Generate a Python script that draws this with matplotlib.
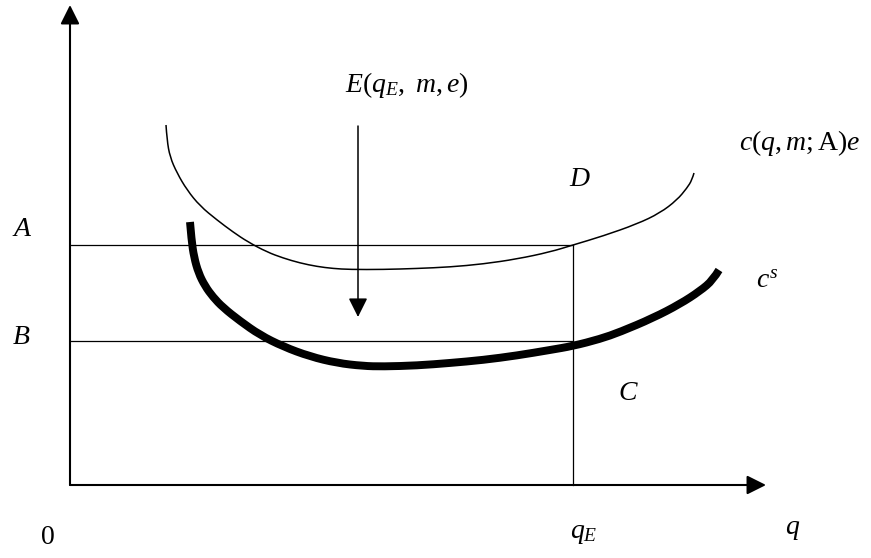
import numpy as np
import matplotlib
matplotlib.use("Agg")
from matplotlib import pyplot as plt
from matplotlib.path import Path
from matplotlib.patches import PathPatch

plt.rcParams['mathtext.fontset'] = 'custom'
plt.rcParams['mathtext.rm'] = 'Liberation Serif'
plt.rcParams['mathtext.it'] = 'Liberation Serif:italic'
plt.rcParams['font.family'] = ['Liberation Serif', 'DejaVu Serif']

# c(q,m;A)e  (thin curve)
q_thin = [96, 97, 100, 107, 117, 130, 147, 163, 178, 197, 213, 230, 247, 263, 280,
          313, 347, 380, 413, 447, 480, 503, 533, 567, 590, 607, 617, 622, 624]
c_thin = [360, 345, 328, 312, 295, 279, 265, 253, 243, 233, 227, 222, 218.5, 216.5, 215.5,
          215.5, 216.5, 218, 221, 226, 233, 240, 249, 261, 272, 285, 297, 305, 312]

# c^s  (thick curve)
q_thick = [120, 121.5, 124, 128.5, 135, 143, 153, 170, 190, 213, 240, 267, 293, 313, 347, 380,
           413, 447, 480, 503, 530, 550, 583, 610, 630, 643, 649]
c_thick = [263, 245, 228, 212, 199, 188, 177.5, 164, 150, 138.5, 128.5, 122, 119, 118.5, 119.5, 122,
           125, 129.5, 135, 139, 146, 153, 167, 181, 194, 205, 215]

level_A = 240
level_B = 144
q_E = 503
arrow_q = 288
arrow_from, arrow_to = 359, 168
x_end, y_end = 696, 480


def smooth_path(xs, ys):
    # quadratic bezier through the midpoints, read points used as control points
    pts = np.column_stack([xs, ys]).astype(float)
    verts = [pts[0]]
    codes = [Path.MOVETO]
    n = len(pts)
    for i in range(1, n - 1):
        end = pts[-1] if i == n - 2 else (pts[i] + pts[i + 1]) / 2
        verts += [pts[i], end]
        codes += [Path.CURVE3, Path.CURVE3]
    return Path(verts, codes)


fig = plt.figure(figsize=(8.71, 5.58), dpi=100)
ax = fig.add_axes([0, 0, 1, 1])
ax.set_xlim(-70, 801)
ax.set_ylim(-73, 485)
ax.axis('off')

head = dict(arrowstyle='-|>,head_length=0.4,head_width=0.2', mutation_scale=29,
            color='black', shrinkA=0, shrinkB=0)

# axes with arrows
ax.annotate('', xy=(0, y_end), xytext=(0, 0), arrowprops=dict(lw=1.5, **head))
ax.annotate('', xy=(x_end, 0), xytext=(0, 0), arrowprops=dict(lw=1.5, **head))

# levels A, B and q_E
ax.plot([0, q_E], [level_A, level_A], color='black', lw=0.9)
ax.plot([0, q_E], [level_B, level_B], color='black', lw=0.9)
ax.plot([q_E, q_E], [0, level_A], color='black', lw=0.9)

# curves
ax.add_patch(PathPatch(smooth_path(q_thin, c_thin), fill=False, ec='black', lw=1.1))
ax.add_patch(PathPatch(smooth_path(q_thick, c_thick), fill=False, ec='black', lw=5.7,
                       capstyle='butt', joinstyle='round'))

# shift arrow
ax.annotate('', xy=(arrow_q, arrow_to), xytext=(arrow_q, arrow_from),
            arrowprops=dict(lw=1.1, **head))

fs = 20
ax.text(-48, 256, '$A$', fontsize=fs, ha='center', va='center')
ax.text(-49, 148, '$B$', fontsize=fs, ha='center', va='center')
ax.text(-22, -53, '0', fontsize=fs, ha='center', va='center')
ax.text(514, -48, '$q_E$', fontsize=fs, ha='center', va='center')
ax.text(723, -45, '$q$', fontsize=fs, ha='center', va='center')
ax.text(558, 92, '$C$', fontsize=fs, ha='center', va='center')
ax.text(510, 305, '$D$', fontsize=fs, ha='center', va='center')
ax.text(697, 204, '$c^s$', fontsize=fs, ha='center', va='center')
ax.text(730, 342, r'$c(q,m;\mathrm{A})e$', fontsize=fs, ha='center', va='center')
ax.text(337, 400, r'$E(q_E,\ m,e)$', fontsize=fs, ha='center', va='center')

fig.savefig('out.png', dpi=100)
